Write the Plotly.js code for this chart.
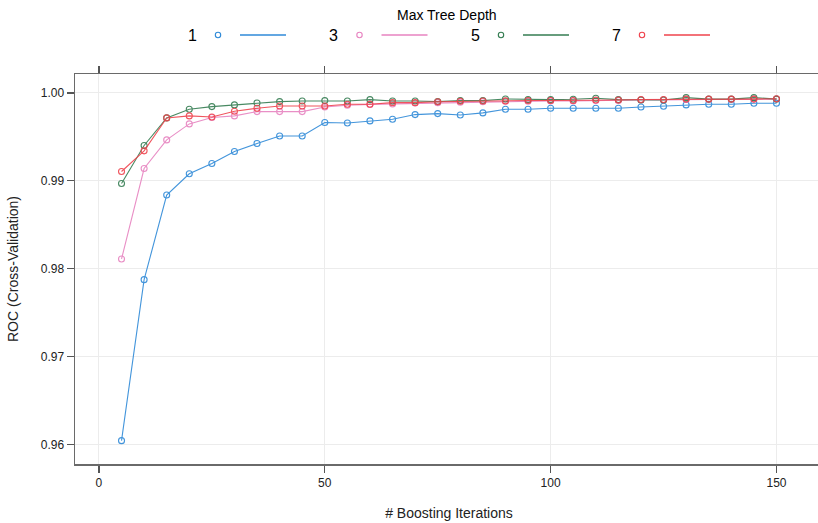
<!DOCTYPE html>
<html>
<head>
<meta charset="utf-8">
<script src="https://cdn.plot.ly/plotly-3.0.1.min.js"></script>
<style>
html,body{margin:0;padding:0;overflow:hidden;background:#fff;}
#chart{width:830px;height:523px;}
</style>
</head>
<body>
<div id="chart"></div>
<script>
var iterations = [5,10,15,20,25,30,35,40,45,50,55,60,65,70,75,80,85,90,95,100,105,110,115,120,125,130,135,140,145,150];
var depthLabels = ["1","3","5","7"];
var depth1 = [0.96042,0.97875,0.98838,0.99080,0.99197,0.99333,0.99424,0.99511,0.99511,0.99663,0.99659,0.99682,0.99701,0.99754,0.99765,0.99750,0.99773,0.99815,0.99815,0.99826,0.99826,0.99826,0.99826,0.99841,0.99849,0.99864,0.99871,0.99871,0.99883,0.99883];
var depth3 = [0.98110,0.99140,0.99466,0.99648,0.99720,0.99739,0.99788,0.99788,0.99788,0.99840,0.99860,0.99870,0.99875,0.99885,0.99890,0.99895,0.99900,0.99905,0.99905,0.99910,0.99910,0.99915,0.99915,0.99920,0.99920,0.99925,0.99925,0.99925,0.99930,0.99930];
var depth5 = [0.98970,0.99402,0.99716,0.99814,0.99845,0.99864,0.99886,0.99902,0.99909,0.99913,0.99909,0.99924,0.99909,0.99909,0.99902,0.99913,0.99913,0.99932,0.99924,0.99924,0.99928,0.99940,0.99924,0.99920,0.99920,0.99947,0.99930,0.99930,0.99947,0.99930];
var depth7 = [0.99106,0.99341,0.99716,0.99739,0.99727,0.99792,0.99826,0.99852,0.99852,0.99852,0.99871,0.99871,0.99890,0.99890,0.99900,0.99905,0.99909,0.99910,0.99915,0.99915,0.99915,0.99920,0.99920,0.99925,0.99925,0.99930,0.99930,0.99930,0.99930,0.99935];
var xTicks = [0,50,100,150];
var yTicks = [0.96,0.97,0.98,0.99,1.00];
var yTickText = ["0.96","0.97","0.98","0.99","1.00"];

var series = [depth1, depth3, depth5, depth7];
var colors = ["#2f8ad8","#e783c0","#357d52","#ef434d"];

var traces = series.map(function(s,i){
  return {
    x: iterations, y: s, type: "scatter", mode: "lines+markers",
    name: depthLabels[i], showlegend: false,
    line: {color: colors[i], width: 1.1},
    marker: {symbol: "circle-open", size: 6, color: colors[i], line: {width: 1.1, color: colors[i]}},
    opacity: 0.9
  };
});

// custom lattice-style key: label, point, line
var L = 75, W = 748, T = 74, B = 464, H = B - T;
function px(x){ return (x - L) / W; }
function py(y){ return (B - y) / H; }
var keyFont = "Liberation Sans, Arial, sans-serif";
var annotations = [{
  text: "Max Tree Depth", xref: "paper", yref: "paper", x: px(447), y: py(15),
  xanchor: "center", yanchor: "middle",
  showarrow: false, font: {family: keyFont, size: 14, color: "#000"}
}];
var shapes = [];
var keyStart = [192, 333.5, 475, 616];
depthLabels.forEach(function(lab,i){
  var x0 = keyStart[i];
  annotations.push({text: lab, xref: "paper", yref: "paper", x: px(x0), y: py(35.5),
    xanchor: "center", yanchor: "middle",
    showarrow: false, font: {family: keyFont, size: 16, color: "#000"}});
  shapes.push({type: "circle", xref: "paper", yref: "paper", xsizemode: "pixel", ysizemode: "pixel",
    xanchor: px(x0 + 26), yanchor: py(35), x0: -2.7, x1: 2.7, y0: -2.7, y1: 2.7,
    line: {color: colors[i], width: 1.1}});
  shapes.push({type: "line", xref: "paper", yref: "paper", x0: px(x0 + 48), x1: px(x0 + 94),
    y0: py(35), y1: py(35), line: {color: colors[i], width: 1.3}});
});

var layout = {
  width: 830, height: 523,
  margin: {l: 75, r: 7, t: 74, b: 59},
  paper_bgcolor: "#fff", plot_bgcolor: "#fff",
  font: {family: "Liberation Sans, Arial, sans-serif", size: 12, color: "#222"},
  xaxis: {
    range: [-5.3, 160.3], tickvals: xTicks, ticktext: xTicks.map(String),
    showgrid: true, gridcolor: "#ececec", gridwidth: 1, zeroline: false,
    showline: true, linecolor: "#6a6a6a", linewidth: 1.5, mirror: "ticks",
    ticks: "outside", ticklen: 7, tickwidth: 1.3, tickcolor: "#555",
    tickfont: {size: 12, color: "#222"},
    title: {text: "# Boosting Iterations", font: {size: 14, color: "#222"}, standoff: 19}
  },
  yaxis: {
    range: [0.95776, 1.00216], tickvals: yTicks, ticktext: yTickText,
    showgrid: true, gridcolor: "#ececec", gridwidth: 1, zeroline: false,
    showline: true, linecolor: "#6a6a6a", linewidth: 1.5, mirror: "ticks",
    ticks: "outside", ticklen: 7, tickwidth: 1.3, tickcolor: "#555",
    tickfont: {size: 12, color: "#222"},
    title: {text: "ROC (Cross-Validation)", font: {size: 14, color: "#222"}, standoff: 19}
  },
  showlegend: false,
  annotations: annotations,
  shapes: shapes
};

Plotly.newPlot("chart", traces, layout, {displayModeBar: false, staticPlot: true});
</script>
</body>
</html>
